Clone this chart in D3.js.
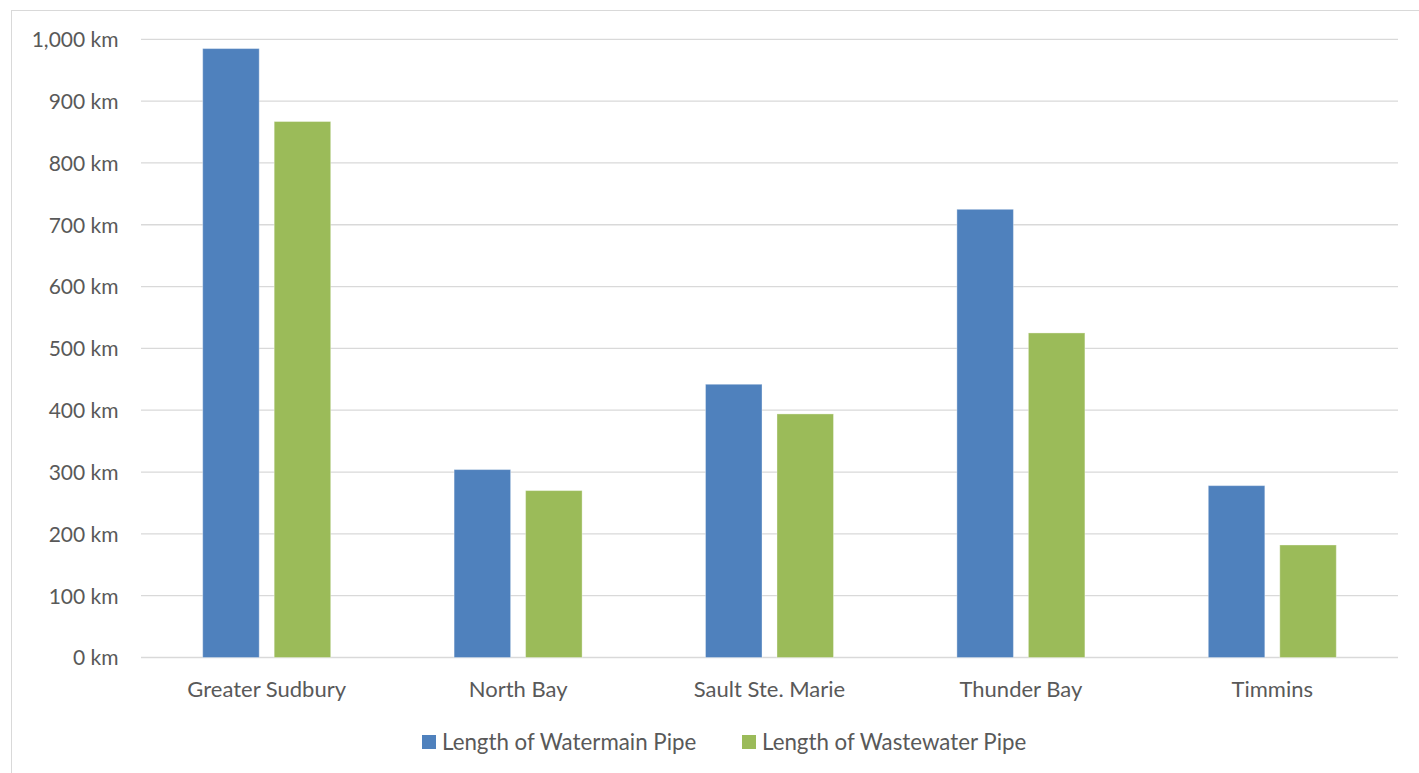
<!DOCTYPE html>
<html>
<head>
<meta charset="utf-8">
<script src="https://cdn.jsdelivr.net/npm/d3@7"></script>
<style>
  html, body { margin: 0; padding: 0; background: #fff; }
  svg text { font-family: Lato, "Open Sans", sans-serif; fill: #595959; }
</style>
</head>
<body>
<svg id="chart" width="1419" height="773"></svg>
<script>
// Pipe network lengths by municipality (km)
const categories = ["Greater Sudbury", "North Bay", "Sault Ste. Marie", "Thunder Bay", "Timmins"];
const watermain = [985, 304, 442, 725, 278];
const wastewater = [867, 270, 394, 525, 182];
const seriesNames = ["Length of Watermain Pipe", "Length of Wastewater Pipe"];
const seriesColors = ["#4f81bd", "#9bbb59"];
const yTicks = [0, 100, 200, 300, 400, 500, 600, 700, 800, 900, 1000];

const svg = d3.select("#chart");
const W = 1419, H = 773;
const plot = { left: 141, right: 1398, top: 39.3, bottom: 657.5 };

// chart frame
svg.append("rect")
  .attr("x", 11.5).attr("y", 10.5)
  .attr("width", W + 10).attr("height", H + 10)
  .attr("fill", "#fff").attr("stroke", "#d9d9d9").attr("stroke-width", 1);

const x = d3.scaleBand().domain(categories).range([plot.left, plot.right]);
const y = d3.scaleLinear().domain([0, 1000]).range([plot.bottom, plot.top]);

const fmt = d3.format(",");

// gridlines
svg.append("g")
  .selectAll("line").data(yTicks).join("line")
  .attr("x1", plot.left).attr("x2", plot.right)
  .attr("y1", d => y(d)).attr("y2", d => y(d))
  .attr("stroke", "#d9d9d9").attr("stroke-width", 1.3);

// y axis labels
const yAxis = d3.axisLeft(y).tickValues(yTicks).tickSize(0).tickPadding(0)
  .tickFormat(d => fmt(d) + " km");
svg.append("g")
  .attr("transform", `translate(${118.5},0)`)
  .call(yAxis)
  .call(g => g.select(".domain").remove())
  .call(g => g.selectAll("text")
    .style("font-family", "Lato, 'Open Sans', sans-serif")
    .style("font-size", "21px").attr("fill", "#595959").attr("dy", "0.35em"));

// bars
const groupW = 128;
const xs = d3.scaleBand().domain(d3.range(seriesNames.length))
  .range([0, groupW]).paddingInner(15 / 71.6);
const seriesData = [watermain, wastewater];

seriesData.forEach((vals, si) => {
  svg.append("g")
    .selectAll("rect").data(vals).join("rect")
    .attr("x", (d, i) => x(categories[i]) + x.bandwidth() / 2 - groupW / 2 + xs(si))
    .attr("y", d => y(d))
    .attr("width", xs.bandwidth())
    .attr("height", d => y(0) - y(d))
    .attr("fill", seriesColors[si])
    .attr("stroke", "#ffffff").attr("stroke-opacity", 0.35).attr("stroke-width", 1);
});

// x axis labels
const xAxis = d3.axisBottom(x).tickSize(0).tickPadding(0);
svg.append("g")
  .attr("transform", `translate(0,${697})`)
  .call(xAxis)
  .call(g => g.select(".domain").remove())
  .call(g => g.selectAll("text")
    .style("font-family", "Lato, 'Open Sans', sans-serif")
    .style("font-size", "22px").attr("fill", "#595959").attr("y", 0).attr("dy", 0));

// legend
const legendPos = [422, 742];
const legend = svg.append("g");
seriesNames.forEach((name, i) => {
  const g = legend.append("g").attr("transform", `translate(${legendPos[i]},${735})`);
  g.append("rect").attr("width", 14).attr("height", 14).attr("fill", seriesColors[i]);
  g.append("text").attr("x", 20).attr("y", 15)
    .style("font-size", "22.3px").text(name);
});
</script>
</body>
</html>
